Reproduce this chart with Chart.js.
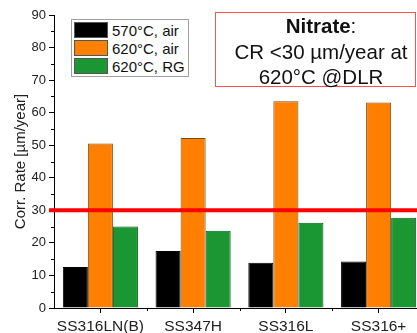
<!DOCTYPE html>
<html>
<head>
<meta charset="utf-8">
<script src="https://cdn.jsdelivr.net/npm/chart.js@4/dist/chart.umd.min.js"></script>
<style>
  html, body { margin: 0; padding: 0; background: #fff; overflow: hidden; }
  #wrap { position: relative; width: 417px; height: 333px; overflow: hidden; font-family: "Liberation Sans", Arial, sans-serif; }
  #chart { position: absolute; left: 0; top: 0; }
  #legend { position: absolute; left: 71px; top: 19px; width: 118px; height: 58px; box-sizing: border-box;
            border: 1px solid #a0a0a0; background: #fff; padding: 1px 0 0 2px; }
  .row { display: flex; align-items: center; height: 18px; }
  .sw { width: 34px; height: 16px; box-sizing: border-box; border: 1px solid #555; margin-right: 4px; }
  .lbl { font-size: 15px; color: #111; white-space: nowrap; }
  #note { position: absolute; left: 215px; top: 12px; width: 201px; height: 75px; box-sizing: border-box;
          border: 1px solid #ff5050; background: #fff; padding-left: 11px; text-align: center;
          font-size: 20.5px; line-height: 25.5px; color: #111; }
</style>
</head>
<body>
<div id="wrap">
  <canvas id="chart" width="425" height="333"></canvas>
  <div id="legend"></div>
  <div id="note"><b>Nitrate</b>:<br>CR &lt;30 µm/year at<br>620°C @DLR</div>
</div>
<script>
// steels tested
const categories = ['SS316LN(B)', 'SS347H', 'SS316L', 'SS316+'];
// corrosion rates, µm/year
const air570 = [12.6, 17.5, 13.9, 14.3];
const air620 = [50.5, 52.2, 63.5, 63.1];
const rg620 = [25.0, 23.7, 26.2, 27.7];
const seriesNames = ['570°C, air', '620°C, air', '620°C, RG'];
const limitValue = 30;

const colors = {
    black: '#000000',
    orange: '#ff8000',
    orangeBorder: '#7a4a10',
    green: '#1a9633',
    greenBorder: '#0e5a1e',
    red: '#ff0000',
    text: '#222222'
};

const fontFamily = '"Liberation Sans", Arial, sans-serif';

// minor ticks + 30 µm/year limit line
const extras = {
    id: 'extras',
    afterDatasetsDraw(chart) {
        const { ctx, chartArea, scales: { x, y } } = chart;
        ctx.save();
        ctx.strokeStyle = '#000';
        ctx.lineWidth = 1;
        for (let v = 5; v < 90; v += 10) {
            const py = Math.round(y.getPixelForValue(v)) + 0.5;
            ctx.beginPath();
            ctx.moveTo(chartArea.left - 3, py);
            ctx.lineTo(chartArea.left, py);
            ctx.stroke();
        }
        for (let i = 0; i < categories.length - 1; i++) {
            const px = Math.round((x.getPixelForValue(i) + x.getPixelForValue(i + 1)) / 2) + 0.5;
            ctx.beginPath();
            ctx.moveTo(px, chartArea.bottom);
            ctx.lineTo(px, chartArea.bottom + 3);
            ctx.stroke();
        }
        const ly = y.getPixelForValue(limitValue);
        ctx.strokeStyle = colors.red;
        ctx.lineWidth = 4;
        ctx.beginPath();
        ctx.moveTo(chartArea.left - 5, ly);
        ctx.lineTo(chart.width, ly);
        ctx.stroke();
        ctx.restore();
    }
};

const datasets = [
    { label: seriesNames[0], data: air570, backgroundColor: colors.black, borderColor: '#000', borderWidth: 1 },
    { label: seriesNames[1], data: air620, backgroundColor: colors.orange, borderColor: colors.orangeBorder, borderWidth: 1 },
    { label: seriesNames[2], data: rg620, backgroundColor: colors.green, borderColor: colors.greenBorder, borderWidth: 1 }
];

new Chart(document.getElementById('chart').getContext('2d'), {
    type: 'bar',
    data: { labels: categories, datasets: datasets },
    options: {
        responsive: false,
        animation: false,
        devicePixelRatio: 1,
        layout: { padding: { top: 15, right: 0, left: 0, bottom: 0 } },
        datasets: { bar: { categoryPercentage: 0.81, barPercentage: 1.0 } },
        plugins: { legend: { display: false }, tooltip: { enabled: false } },
        scales: {
            x: {
                offset: true,
                afterFit: s => { s.height = 25; },
                border: { display: true, color: '#000', width: 1 },
                grid: { offset: false, drawOnChartArea: false, drawTicks: true, tickLength: 5, color: '#000' },
                ticks: { font: { family: fontFamily, size: 15.5 }, color: colors.text, padding: 4, maxRotation: 0, autoSkip: false }
            },
            y: {
                min: 0,
                max: 90,
                afterFit: s => { s.width = 54; },
                border: { display: true, color: '#000', width: 1 },
                grid: { drawOnChartArea: false, drawTicks: true, tickLength: 5, color: '#000' },
                ticks: { stepSize: 10, font: { family: fontFamily, size: 13 }, color: colors.text, padding: 3 },
                title: { display: true, text: 'Corr. Rate [µm/year]', font: { family: fontFamily, size: 15 }, color: colors.text, padding: { top: 12, bottom: 0 } }
            }
        }
    },
    plugins: [extras]
});

// legend built from the same series
const legend = document.getElementById('legend');
datasets.forEach(d => {
    const row = document.createElement('div');
    row.className = 'row';
    const sw = document.createElement('div');
    sw.className = 'sw';
    sw.style.background = d.backgroundColor;
    const lbl = document.createElement('span');
    lbl.className = 'lbl';
    lbl.textContent = d.label;
    row.appendChild(sw);
    row.appendChild(lbl);
    legend.appendChild(row);
});
</script>
</body>
</html>
